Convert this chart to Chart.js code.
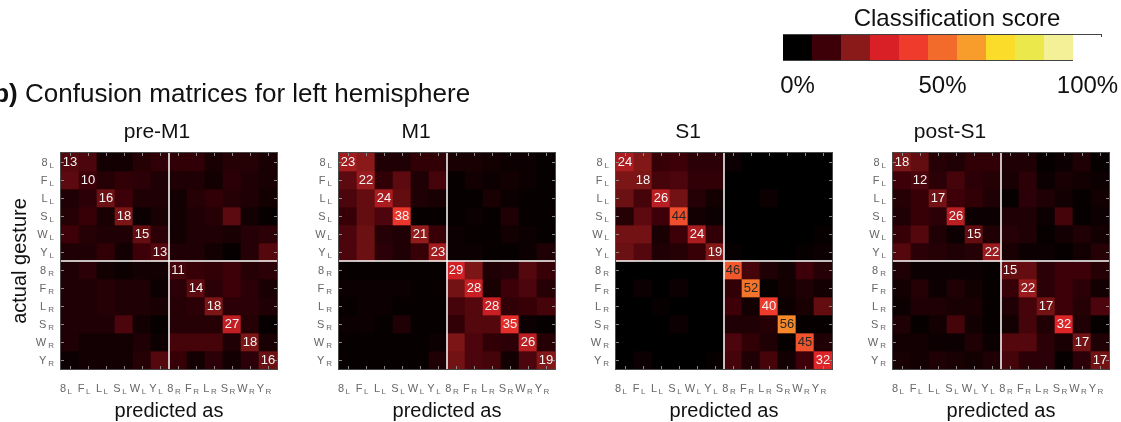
<!DOCTYPE html>
<html><head><meta charset="utf-8">
<script src="https://cdn.jsdelivr.net/npm/chart.js@4.4.1/dist/chart.umd.min.js"></script>
<style>
html,body{margin:0;padding:0;background:#fff;width:1121px;height:422px;overflow:hidden;}
canvas{position:absolute;left:0;top:0;}
</style></head><body>
<canvas id="deco" width="1121" height="422"></canvas>
<canvas id="c0" width="1121" height="422"></canvas>
<canvas id="c1" width="1121" height="422"></canvas>
<canvas id="c2" width="1121" height="422"></canvas>
<canvas id="c3" width="1121" height="422"></canvas>
<script>
// ---- data ----
const gestures = ['8','F','L','S','W','Y'];
const hands = ['L','R'];
const panelTitles = ['pre-M1','M1','S1','post-S1'];
const headerBold = 'b)';
const headerText = 'Confusion matrices for left hemisphere';
const xAxisTitle = 'predicted as';
const yAxisTitle = 'actual gesture';
const colorbarTitle = 'Classification score';
const colorbarTicks = ['0%','50%','100%'];
const colorbarTickPos = [0, 50, 100];
// colormap stops at 0,10,...,100 %
const colorbarColors = ['#000000','#3d0008','#8a1a1a','#d92027','#ef3b2c','#f26b2b','#f89c2c','#fcdc2b','#ebe84c','#f3f097','#ffffff'];

// rows = actual gesture (8L..YL, 8R..YR), cols = predicted as
const preM1 = [
 [13,12, 3, 3, 6, 8,  8, 8, 4, 6, 6, 4],
 [14,10, 6, 8, 7, 5,  5, 5, 3, 7, 5, 4],
 [ 5, 7,16,10, 5, 5,  3, 6, 8, 6, 5, 3],
 [ 6, 9, 4,18, 2, 4,  3, 5, 6,14, 3, 1],
 [10, 6, 5, 5,15, 7,  3, 5, 5, 4, 6, 7],
 [ 5, 5, 8, 3,10,13,  5, 5, 3, 1, 6,13],
 [ 5, 7, 3, 2, 3, 3, 11, 9, 8,10, 6, 7],
 [ 5, 5, 6, 5, 5, 2,  7,14, 7,10, 7, 4],
 [ 5, 5, 6, 5, 5, 4,  6, 7,18, 7, 7, 5],
 [ 5, 5, 5,12, 3, 1,  6, 6, 6,27, 6, 1],
 [ 5, 3, 3, 3, 5, 2, 11,11,11, 5,18, 4],
 [ 2, 3, 3, 3, 6,13,  9, 3, 7, 3, 7,16]
];
const M1 = [
 [23,20, 5, 5, 8, 8,  4, 4, 3, 2, 2, 1],
 [14,22, 8,14, 5,11,  1, 3, 2, 3, 2, 1],
 [12,15,24,15, 5, 4,  1, 1, 4, 2, 1, 1],
 [ 9,15,12,38, 1, 1,  1, 2, 1, 5, 1, 1],
 [12,16, 6, 5,21, 9,  2, 1, 1, 3, 2, 1],
 [12,16, 7, 5, 9,23,  2, 2, 1, 1, 2, 5],
 [ 1, 1, 1, 1, 1, 1, 29,18, 5, 6,13, 9],
 [ 2, 2, 2, 2, 1, 1, 17,28, 4,10,12, 6],
 [ 1, 2, 2, 1, 1, 1, 11,13,28, 8, 9,11],
 [ 2, 2, 1, 5, 1, 1,  8,13,13,35, 2, 1],
 [ 1, 1, 1, 1, 1, 2, 18,12, 8, 7,26, 6],
 [ 1, 1, 1, 1, 1, 5, 17,12,11, 3,12,19]
];
const S1 = [
 [24,19, 9,10, 7, 7,  2, 0, 0, 0, 0, 0],
 [18,18,11,12, 8, 8,  0, 0, 0, 0, 0, 0],
 [16,11,26,17, 6, 3,  0, 0, 2, 0, 0, 0],
 [ 6,14,10,44, 3, 2,  0, 0, 0, 0, 0, 0],
 [17,17, 4,10,24, 8,  0, 0, 0, 0, 0, 1],
 [16,13, 5, 6, 9,19,  1, 0, 0, 0, 1, 2],
 [ 0, 0, 0, 0, 0, 0, 46,11, 5, 3,10, 6],
 [ 0, 2, 0, 2, 0, 0,  8,52, 1, 3, 5, 3],
 [ 0, 0, 1, 0, 0, 0, 10, 3,40, 2, 4,15],
 [ 0, 0, 0, 2, 0, 0,  5, 5, 6,56, 1, 1],
 [ 0, 0, 0, 0, 0, 0, 12, 8, 5, 1,45, 5],
 [ 0, 2, 0, 0, 0, 1, 11, 5,11, 3,10,32]
];
const postS1 = [
 [18,15, 6, 5, 8, 8,  5, 5, 1, 2, 5, 1],
 [10,12, 7,11, 7, 6,  4, 7, 2, 4, 3, 2],
 [ 6, 9,17,10, 8, 5,  1, 7, 5, 3, 1, 3],
 [ 5, 9, 7,26, 2, 2,  5, 5, 2,11, 1, 2],
 [ 9,13, 5, 2,15, 5,  6, 5, 1, 3, 5, 3],
 [13, 7, 6, 5, 6,22,  4, 2, 2, 1, 3, 6],
 [ 5, 2, 2, 2, 2, 1, 15,15, 7,10,10, 6],
 [ 3, 6, 2, 5, 3, 1,  9,22, 7,10, 7, 3],
 [ 2, 5, 5, 4, 4, 1,  5,11,17,10, 6,12],
 [ 5, 1, 3,11, 3, 1,  3,11, 5,32, 5, 1],
 [ 3, 3, 2, 2, 5, 2, 13,13, 7, 4,17, 5],
 [ 4, 3, 5, 4, 3, 5, 11, 7, 7, 1, 7,17]
];
const matrices = [preM1, M1, S1, postS1];

// ---- helpers ----
const FONT = '"Liberation Sans", Arial, Helvetica, sans-serif';
const W = 1121, H = 422;
const TOP = 153, SIZE = 216;
const panelLeft = [61, 339, 616, 893];
const titleCenter = [157, 416, 688, 950];

function hexToRgb(h){ return [parseInt(h.slice(1,3),16),parseInt(h.slice(3,5),16),parseInt(h.slice(5,7),16)]; }
const stops = colorbarColors.map(hexToRgb);
function cmap(v){
  const t = Math.max(0, Math.min(100, v)) / 10;
  const i = Math.min(9, Math.floor(t)), f = t - i;
  const a = stops[i], b = stops[i+1];
  const c = a.map((x,k)=>Math.round(x + (b[k]-x)*f));
  return `rgb(${c[0]},${c[1]},${c[2]})`;
}
const tickLabels = hands.flatMap(h => gestures.map(g => ({main:g, sub:h})));
const catLabels = tickLabels.map(l => l.main + '_' + l.sub);

// ---- decoration canvas: header + colorbar ----
(function(){
  const ctx = document.getElementById('deco').getContext('2d');
  ctx.fillStyle = '#111';
  ctx.textBaseline = 'alphabetic';
  ctx.font = '26px ' + FONT;
  const sp = ctx.measureText(' ').width;
  ctx.textAlign = 'left';
  ctx.fillText(headerText, 25, 102);
  ctx.font = 'bold 26px ' + FONT;
  ctx.textAlign = 'right';
  ctx.fillText(headerBold, 25 - sp, 102);

  // colorbar
  const cbLeft = 783, cbTop = 34, cbW = 29, cbH = 27;
  colorbarColors.forEach((c,k)=>{
    ctx.fillStyle = c;
    ctx.fillRect(cbLeft + k*cbW, cbTop, cbW, cbH);
  });
  ctx.strokeStyle = '#444'; ctx.lineWidth = 1;
  ctx.beginPath();
  ctx.moveTo(cbLeft, cbTop + 0.5); ctx.lineTo(cbLeft + 11*cbW, cbTop + 0.5);
  ctx.moveTo(cbLeft, cbTop + cbH - 0.5); ctx.lineTo(cbLeft + 10*cbW, cbTop + cbH - 0.5);
  ctx.moveTo(cbLeft + 11*cbW - 0.5, cbTop); ctx.lineTo(cbLeft + 11*cbW - 0.5, cbTop + 3);
  ctx.stroke();
  ctx.fillStyle = '#111';
  ctx.textAlign = 'center';
  ctx.font = '24px ' + FONT;
  ctx.fillText(colorbarTitle, 957, 26);
  colorbarTicks.forEach((t,k)=>{
    const x = cbLeft + (colorbarTickPos[k]/10 + 0.5) * cbW;
    ctx.fillText(t, x, 93);
  });
})();

// ---- matrix decoration plugin ----
const matrixDeco = {
  id: 'matrixDeco',
  afterDatasetsDraw(chart, args, opts){
    const ctx = chart.ctx, ca = chart.chartArea;
    const xs = chart.scales.x, ys = chart.scales.y;
    const m = opts.matrix;
    ctx.save();
    // quadrant separators
    const sx = (xs.getPixelForValue(5) + xs.getPixelForValue(6)) / 2;
    const sy = ys.getPixelForValue(6);
    ctx.strokeStyle = '#ffffff'; ctx.lineWidth = 1.5;
    ctx.beginPath();
    ctx.moveTo(sx, ca.top); ctx.lineTo(sx, ca.bottom);
    ctx.moveTo(ca.left, sy); ctx.lineTo(ca.right, sy);
    ctx.stroke();
    // ticks on all sides
    ctx.strokeStyle = '#8a8a8a'; ctx.lineWidth = 1;
    ctx.beginPath();
    for (let i = 0; i < 12; i++){
      const x = Math.round(xs.getPixelForValue(i)) + 0.5;
      const y = Math.round((ys.getPixelForValue(i) + ys.getPixelForValue(i+1)) / 2) + 0.5;
      ctx.moveTo(x, ca.top); ctx.lineTo(x, ca.top + 3);
      ctx.moveTo(x, ca.bottom); ctx.lineTo(x, ca.bottom - 3);
      ctx.moveTo(ca.left, y); ctx.lineTo(ca.left + 3, y);
      ctx.moveTo(ca.right, y); ctx.lineTo(ca.right - 3, y);
    }
    ctx.stroke();
    // border
    ctx.strokeStyle = '#4a4a4a'; ctx.lineWidth = 1;
    ctx.strokeRect(ca.left - 0.5, ca.top - 0.5, ca.right - ca.left + 1, ca.bottom - ca.top + 1);
    // diagonal values
    ctx.font = '13px ' + FONT;
    ctx.textAlign = 'center'; ctx.textBaseline = 'middle';
    for (let i = 0; i < 12; i++){
      const v = m[i][i];
      const x = xs.getPixelForValue(i);
      const y = (ys.getPixelForValue(i) + ys.getPixelForValue(i+1)) / 2 + 0.5;
      ctx.fillStyle = v >= 42 ? '#262626' : '#f4f4f4';
      ctx.fillText(String(v), x, y);
    }
    // tick labels
    ctx.fillStyle = '#666666';
    ctx.textBaseline = 'alphabetic';
    for (let i = 0; i < 12; i++){
      const l = tickLabels[i];
      // y labels
      const yc = (ys.getPixelForValue(i) + ys.getPixelForValue(i+1)) / 2;
      ctx.font = '8px ' + FONT;
      const subW = ctx.measureText(l.sub).width;
      ctx.textAlign = 'right';
      ctx.fillText(l.sub, ca.left - 7, yc + 6);
      ctx.font = '11px ' + FONT;
      ctx.fillText(l.main, ca.left - 7 - subW - 2, yc + 4);
      // x labels
      const xc = xs.getPixelForValue(i) - 4;
      ctx.font = '11px ' + FONT;
      const mainW = ctx.measureText(l.main).width;
      const total = mainW + 1.5 + subW;
      ctx.textAlign = 'left';
      ctx.fillText(l.main, xc - total/2, ca.bottom + 23);
      ctx.font = '8px ' + FONT;
      ctx.fillText(l.sub, xc - total/2 + mainW + 1.5, ca.bottom + 24.5);
    }
    // titles
    ctx.fillStyle = '#111';
    ctx.textAlign = 'center';
    ctx.font = '21px ' + FONT;
    ctx.fillText(opts.title, opts.titleX, 138);
    ctx.font = '20px ' + FONT;
    ctx.fillText(xAxisTitle, (ca.left + ca.right) / 2, 417);
    if (opts.showY){
      ctx.translate(26, (ca.top + ca.bottom) / 2);
      ctx.rotate(-Math.PI / 2);
      ctx.fillText(yAxisTitle, 0, 0);
    }
    ctx.restore();
  }
};

matrices.forEach((m, p) => {
  const datasets = m.map((row, r) => ({
    label: catLabels[r],
    data: row.map(() => [r, r + 1]),
    backgroundColor: row.map(v => cmap(v)),
    borderWidth: 0,
    barPercentage: 1,
    categoryPercentage: 1,
    grouped: false
  }));
  new Chart(document.getElementById('c' + p), {
    type: 'bar',
    data: { labels: catLabels, datasets },
    options: {
      responsive: false,
      animation: false,
      events: [],
      devicePixelRatio: 1,
      layout: { padding: { left: panelLeft[p], right: W - panelLeft[p] - SIZE, top: TOP, bottom: H - TOP - SIZE } },
      scales: {
        x: { type: 'category', display: false, offset: true, grid: { display: false } },
        y: { type: 'linear', display: false, min: 0, max: 12, reverse: true, grid: { display: false } }
      },
      plugins: {
        legend: { display: false },
        tooltip: { enabled: false },
        title: { display: false },
        matrixDeco: { matrix: m, title: panelTitles[p], titleX: titleCenter[p], showY: p === 0 }
      }
    },
    plugins: [matrixDeco]
  });
});
</script>
</body></html>
